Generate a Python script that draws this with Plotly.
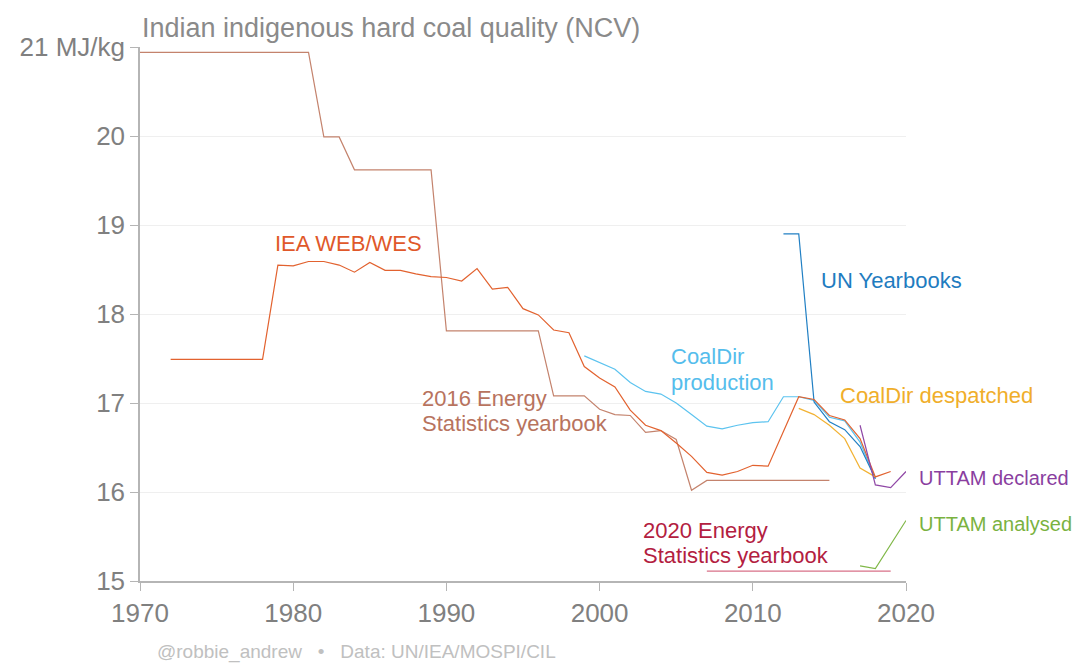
import plotly.graph_objects as go

# ---- data ----
ey2016_years = list(range(1970, 2016))
ey2016_vals = [20.94] * 12 + [19.99, 19.99] + [19.62] * 6 + [17.81] * 7 + [17.08] * 3 + \
    [16.93, 16.87, 16.86, 16.67, 16.69, 16.59, 16.02] + [16.13] * 9

iea_years = list(range(1972, 2012)) + list(range(2013, 2020))
iea_vals = [17.49] * 7 + [18.55, 18.54, 18.59, 18.59, 18.55, 18.47, 18.58, 18.49, 18.49,
            18.45, 18.42, 18.41, 18.37, 18.51, 18.28, 18.30, 18.06, 17.99, 17.82, 17.79,
            17.41, 17.28, 17.18, 16.92, 16.75, 16.69, 16.55, 16.40, 16.22, 16.19, 16.23,
            16.30, 16.29] + [17.07, 17.04, 16.86, 16.81, 16.60, 16.17, 16.23]

cdprod_years = [1999] + list(range(2001, 2019))
cdprod_vals = [17.53, 17.38, 17.23, 17.13, 17.10, 17.00, 16.87, 16.74, 16.71, 16.75, 16.78,
               16.79, 17.07, 17.07, 17.03, 16.84, 16.80, 16.56, 16.15]

un_years = list(range(2012, 2019))
un_vals = [18.90, 18.90, 17.01, 16.79, 16.70, 16.51, 16.15]

cddesp_years = list(range(2013, 2019))
cddesp_vals = [16.94, 16.87, 16.75, 16.60, 16.27, 16.17]

uttam_decl_years = [2017, 2018, 2019, 2020]
uttam_decl_vals = [16.75, 16.08, 16.05, 16.23]

uttam_anal_years = [2017, 2018, 2020]
uttam_anal_vals = [15.17, 15.14, 15.68]

ey2020_years = list(range(2007, 2020))
ey2020_vals = [15.11] * 13

y_ticks = [15, 16, 17, 18, 19, 20, 21]
y_ticktext = ["15", "16", "17", "18", "19", "20", "21 MJ/kg"]
x_ticks = [1970, 1980, 1990, 2000, 2010, 2020]

FONT = "Liberation Sans, Arial, sans-serif"

series = [
    (ey2016_years, ey2016_vals, "#c4836d"),
    (ey2020_years, ey2020_vals, "#d87088"),
    (cdprod_years, cdprod_vals, "#5cc3ef"),
    (un_years, un_vals, "#2280c4"),
    (cddesp_years, cddesp_vals, "#f2b233"),
    (iea_years, iea_vals, "#e2622f"),
    (uttam_decl_years, uttam_decl_vals, "#9048a6"),
    (uttam_anal_years, uttam_anal_vals, "#80b848"),
]

fig = go.Figure()
for xs, ys, col in series:
    fig.add_trace(go.Scatter(x=xs, y=ys, mode="lines",
                             line=dict(color=col, width=1.2),
                             showlegend=False, hoverinfo="skip"))

# (text, x, xref, y, colour, size)
labels = [
    ("IEA WEB/WES", 1978.65, "x", 18.787, "#e0582a", 22),
    ("UN Yearbooks", 2014.32, "x", 18.382, "#1f7cc0", 22),
    ("CoalDir", 2004.52, "x", 17.517, "#55bdec", 22),
    ("production", 2004.52, "x", 17.225, "#55bdec", 22),
    ("CoalDir despatched", 2015.56, "x", 17.079, "#f0ae2a", 22),
    ("2016 Energy", 1988.26, "x", 17.056, "#b8735e", 22),
    ("Statistics yearbook", 1988.26, "x", 16.775, "#b8735e", 22),
    ("UTTAM declared", 1.0145, "paper", 16.157, "#8a3e9f", 20),
    ("UTTAM analysed", 1.0145, "paper", 15.640, "#7ab23f", 20),
    ("2020 Energy", 2002.69, "x", 15.573, "#b3203f", 22),
    ("Statistics yearbook", 2002.69, "x", 15.292, "#b3203f", 22),
]
for txt, x, xr, y, col, sz in labels:
    fig.add_annotation(x=x, y=y, xref=xr, yref="y", text=txt, showarrow=False,
                       xanchor="left", yanchor="middle", align="left",
                       font=dict(family=FONT, size=sz, color=col))

fig.add_annotation(x=0, y=1.0356, xref="paper", yref="paper",
                   text="Indian indigenous hard coal quality (NCV)", showarrow=False,
                   xanchor="left", yanchor="middle",
                   font=dict(family=FONT, size=27, color="#8a8a8a"))
sp = "\u00a0\u00a0\u00a0"
fig.add_annotation(x=0.019, y=-0.1335, xref="paper", yref="paper",
                   text="@robbie_andrew" + sp + "\u2022" + sp + "Data: UN/IEA/MOSPI/CIL",
                   showarrow=False, xanchor="left", yanchor="middle",
                   font=dict(family=FONT, size=19, color="#c0c0c0"))

fig.update_layout(
    width=1077, height=657,
    margin=dict(l=132, r=179, t=39, b=84),
    paper_bgcolor="white", plot_bgcolor="white",
    font=dict(family=FONT, color="#808080"),
    xaxis=dict(range=[1970, 2020], tickvals=x_ticks, showgrid=False, zeroline=False,
               showline=True, linecolor="#b5b5b5", linewidth=1.5,
               ticks="outside", ticklen=8, tickcolor="#b5b5b5",
               tickfont=dict(family=FONT, size=26, color="#808080")),
    yaxis=dict(range=[15, 21], tickvals=y_ticks, ticktext=y_ticktext,
               showgrid=True, gridcolor="#efefef", gridwidth=1, zeroline=False,
               showline=True, linecolor="#b5b5b5", linewidth=1.5,
               ticks="outside", ticklen=8, tickcolor="#b5b5b5",
               tickfont=dict(family=FONT, size=26, color="#808080")),
)

fig.write_html("out.html")
